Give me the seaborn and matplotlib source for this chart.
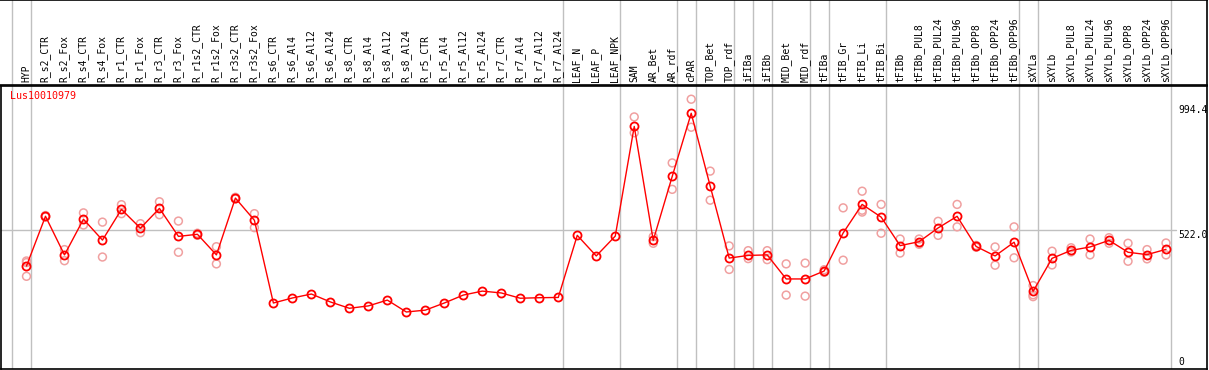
import numpy as np
import pandas as pd
import matplotlib
matplotlib.use("Agg")
import matplotlib.pyplot as plt
import seaborn as sns

# Categorías (muestras)
categorias = [
    "HYP", "R_s2_CTR", "R_s2_Fox", "R_s4_CTR", "R_s4_Fox", "R_r1_CTR", "R_r1_Fox",
    "R_r3_CTR", "R_r3_Fox", "R_r1s2_CTR", "R_r1s2_Fox", "R_r3s2_CTR", "R_r3s2_Fox",
    "R_s6_CTR", "R_s6_Al4", "R_s6_Al12", "R_s6_Al24", "R_s8_CTR", "R_s8_Al4",
    "R_s8_Al12", "R_s8_Al24", "R_r5_CTR", "R_r5_Al4", "R_r5_Al12", "R_r5_Al24",
    "R_r7_CTR", "R_r7_Al4", "R_r7_Al12", "R_r7_Al24", "LEAF_N", "LEAF_P", "LEAF_NPK",
    "SAM", "AR_Bet", "AR_rdf", "cPAR", "TOP_Bet", "TOP_rdf", "iFIBa", "iFIBb",
    "MID_Bet", "MID_rdf", "tFIBa", "tFIB_Gr", "tFIB_Li", "tFIB_Bi", "tFIBb",
    "tFIBb_PUL8", "tFIBb_PUL24", "tFIBb_PUL96", "tFIBb_OPP8", "tFIBb_OPP24",
    "tFIBb_OPP96", "sXYLa", "sXYLb", "sXYLb_PUL8", "sXYLb_PUL24", "sXYLb_PUL96",
    "sXYLb_OPP8", "sXYLb_OPP24", "sXYLb_OPP96",
]

# Valores medios por muestra
medias = [
    384, 572, 426, 561, 482, 598, 527, 602, 496, 504, 426, 641, 557,
    244, 263, 278, 248, 224, 233, 255, 210, 217, 244, 274, 289, 282, 262, 264, 265,
    500, 422, 497,
    912, 481, 723, 962, 686, 414, 424, 426, 335, 335, 365, 509, 617, 569,
    461, 476, 528, 572, 458, 422, 474,
    288, 413, 443, 456, 481, 436, 427, 447,
]

# Réplicas por muestra (vacío = sin réplicas)
replicas = [
    [403, 397, 345], [575, 570], [446, 404], [585, 539], [550, 418], [616, 582],
    [544, 510], [627, 578], [554, 436], [508, 500], [457, 392], [644, 638], [582, 529],
    [], [], [], [], [], [], [], [], [], [], [], [], [], [], [], [],
    [], [], [],
    [948, 888], [495, 470], [774, 674], [1015, 909], [743, 633], [460, 371],
    [442, 412], [442, 408], [392, 274], [395, 270], [370, 360], [604, 406],
    [667, 595, 588], [617, 508],
    [486, 433], [486, 466], [553, 500], [617, 532], [462, 455], [456, 387], [532, 415],
    [310, 275, 268], [440, 388], [453, 437], [486, 426], [491, 470], [470, 402],
    [446, 411], [471, 426],
]

# Último índice de cada grupo (separadores verticales)
fin_grupo = [-1, 0, 28, 31, 34, 35, 37, 38, 39, 41, 42, 45, 52, 53, 60]

# Marcas del eje de valores
ticks_valor = [0, 522.0, 994.4]
nombre_gen = "Lus10010979"

# --- Tablas ---
df_media = pd.DataFrame({"pos": np.arange(len(categorias)), "valor": medias})
filas = [(i, v) for i, reps in enumerate(replicas) for v in reps]
df_rep = pd.DataFrame(filas, columns=["pos", "valor"])

# --- Gráfico ---
sns.set_style("white")
plt.rcParams["font.family"] = ["DejaVu Sans Mono", "DejaVu Sans"]

W, H = 1209, 370
fig = plt.figure(figsize=(W / 100, H / 100), dpi=100)

px = 19.0
x0 = 26.0
xlim = (-x0 / px, (1207 - x0) / px)

ax_lab = fig.add_axes([0, 1 - 85 / H, 1207 / W, 85 / H])
ax = fig.add_axes([0.5 / W, 1 / H, 1206.5 / W, 283 / H])

gris = "#c0c0c0"
rojo = "#ff0000"
rosa = "#f0a0a0"

# Etiquetas rotadas
ax_lab.set_xlim(*xlim)
ax_lab.set_ylim(0, 1)
for i, c in enumerate(categorias):
    ax_lab.text(i, 0.03, c, rotation=90, ha="center", va="bottom",
                fontsize=7, color="black")
for g in fin_grupo:
    ax_lab.axvline(g + 0.25, color=gris, lw=1)
ax_lab.set_xticks([])
ax_lab.set_yticks([])
for s in ["top", "right", "bottom"]:
    ax_lab.spines[s].set_color("black")
    ax_lab.spines[s].set_linewidth(1.2)
ax_lab.spines["left"].set_visible(False)

# Panel principal
ax.set_xlim(*xlim)
ax.set_ylim(-5.7, 1065)
for g in fin_grupo:
    ax.axvline(g + 0.25, color=gris, lw=1, zorder=1)
ax.axhline(522.0, xmin=0, xmax=1176 / 1207, color=gris, lw=1, zorder=1)

sns.scatterplot(x="pos", y="valor", data=df_rep, ax=ax, marker="o", s=32,
                facecolor="none", edgecolor=rosa, linewidth=1.1, zorder=2)
sns.lineplot(x="pos", y="valor", data=df_media, ax=ax, color=rojo, lw=1,
             marker="o", markersize=5.8, markerfacecolor="none",
             markeredgecolor=rojo, markeredgewidth=1.3, zorder=3)

xt = (1178 - x0) / px
for t in ticks_valor:
    ax.text(xt, t, f"{t:g}" if t == 0 else f"{t:.1f}", ha="left",
            va="bottom" if t == 0 else "top", fontsize=7, color="black")

ax.text(10 / px + xlim[0], 1045, nombre_gen, color=rojo, fontsize=7.2,
        ha="left", va="top")

ax.set_xticks([])
ax.set_yticks([])
ax.set_xlabel("")
ax.set_ylabel("")
for s in ax.spines.values():
    s.set_color("black")
    s.set_linewidth(1.2)

fig.savefig("out.png", dpi=100)
